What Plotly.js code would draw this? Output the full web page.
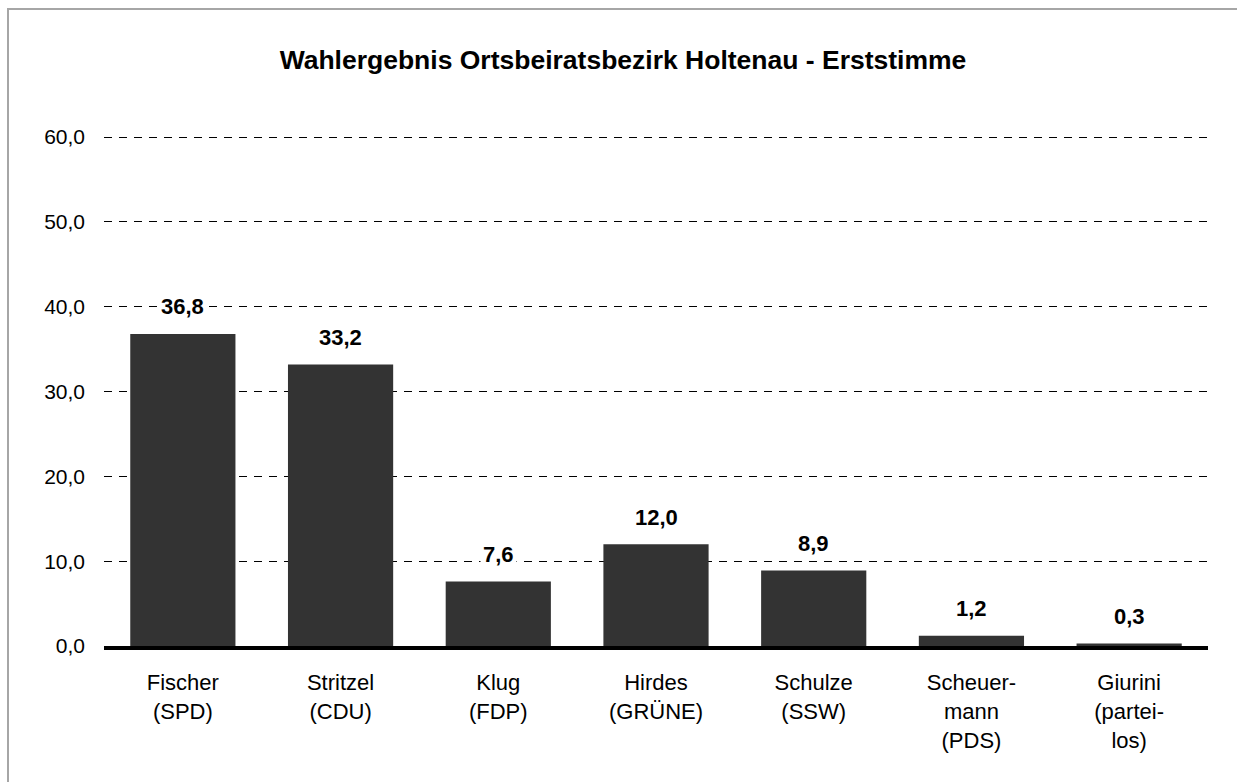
<!DOCTYPE html>
<html>
<head>
<meta charset="utf-8">
<script src="https://cdn.plot.ly/plotly-3.0.1.min.js"></script>
<style>
  html, body { margin: 0; padding: 0; background: #fff; }
  #chart { width: 1237px; height: 782px; position: absolute; left: 0; top: 0; }
  #frame { position: absolute; left: 7px; top: 8px; width: 1300px; height: 900px;
           border: 2px solid #a6a6a6; box-sizing: border-box; pointer-events: none; }
</style>
</head>
<body>
<div id="chart"></div>
<div id="frame"></div>
<script>
const categories = [
  "Fischer<br>(SPD)",
  "Stritzel<br>(CDU)",
  "Klug<br>(FDP)",
  "Hirdes<br>(GRÜNE)",
  "Schulze<br>(SSW)",
  "Scheuer-<br>mann<br>(PDS)",
  "Giurini<br>(partei-<br>los)"
];
const values = [36.8, 33.2, 7.6, 12.0, 8.9, 1.2, 0.3];
const yTicks = [0, 10, 20, 30, 40, 50, 60];
const titleText = "Wahlergebnis Ortsbeiratsbezirk Holtenau - Erststimme";

const fmt = v => v.toFixed(1).replace('.', ',');

const trace = {
  type: 'bar',
  x: categories,
  y: values,
  marker: { color: '#333333', line: { width: 0 } },
  hoverinfo: 'skip'
};

const annotations = categories.map((c, i) => ({
  x: c, y: values[i], xref: 'x', yref: 'y',
  text: '<b>' + fmt(values[i]) + '</b>',
  showarrow: false,
  yanchor: 'middle',
  yshift: 27,
  bgcolor: '#ffffff',
  borderpad: 2,
  font: { family: 'Liberation Sans, Arial, sans-serif', size: 22, color: '#000' }
}));

const layout = {
  width: 1237, height: 782,
  margin: { l: 104, r: 29, t: 135, b: 136, pad: 0 },
  paper_bgcolor: 'rgba(0,0,0,0)',
  plot_bgcolor: 'rgba(0,0,0,0)',
  separators: ',.',
  showlegend: false,
  bargap: 0.333,
  font: { family: 'Liberation Sans, Arial, sans-serif', size: 21, color: '#000' },
  title: {
    text: '<b>' + titleText + '</b>',
    x: 623 / 1237, xref: 'container', xanchor: 'center',
    y: 1 - 60 / 782, yref: 'container', yanchor: 'middle',
    font: { family: 'Liberation Sans, Arial, sans-serif', size: 26.5, color: '#000' }
  },
  xaxis: {
    type: 'category',
    showgrid: false,
    zeroline: false,
    showline: true,
    linecolor: '#000',
    linewidth: 4,
    ticks: '',
    ticklabelstandoff: 14,
    tickfont: { size: 22, color: '#000' },
    fixedrange: true
  },
  yaxis: {
    range: [0, 60.25],
    tickvals: yTicks,
    tickformat: '.1f',
    showgrid: true,
    gridcolor: '#000',
    gridwidth: 1,
    griddash: '8px,7px',
    zeroline: false,
    showline: false,
    ticks: '',
    ticklabelstandoff: 18,
    tickfont: { size: 21, color: '#000' },
    fixedrange: true
  },
  annotations: annotations
};

Plotly.newPlot('chart', [trace], layout, { displayModeBar: false, staticPlot: true });
</script>
</body>
</html>
